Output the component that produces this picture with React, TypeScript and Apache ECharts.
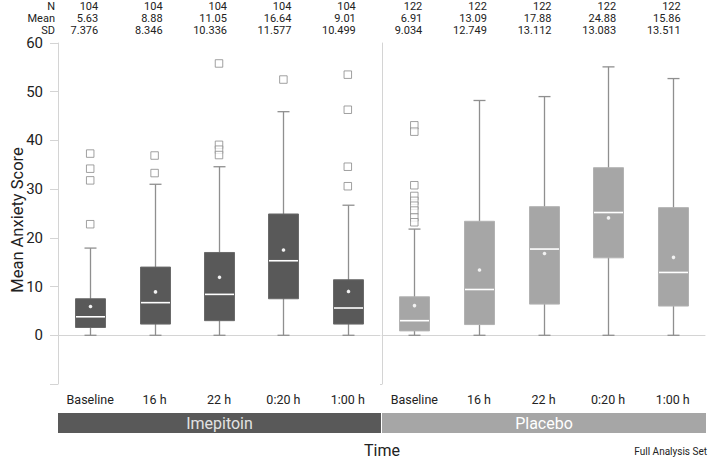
import React, { useEffect, useRef } from "react";
import * as echarts from "echarts";

const categories = ["Baseline", "16 h", "22 h", "0:20 h", "1:00 h"];
const groups = ["Imepitoin", "Placebo"];

// [min, Q1, median, Q3, max]
const imepBoxes = [
  [0, 1.6, 3.8, 7.5, 17.9],
  [0, 2.3, 6.7, 14.0, 31.0],
  [0, 3.0, 8.4, 17.0, 34.6],
  [0, 7.5, 15.3, 24.9, 45.9],
  [0, 2.3, 5.6, 11.4, 26.7],
];
const placBoxes = [
  [0, 0.9, 3.0, 7.9, 21.8],
  [0, 2.2, 9.4, 23.4, 48.2],
  [0, 6.4, 17.7, 26.4, 49.0],
  [0, 15.9, 25.2, 34.4, 55.1],
  [0, 6.0, 12.9, 26.2, 52.7],
];
const imepMeanDots = [5.9, 8.9, 11.9, 17.5, 9.0];
const placMeanDots = [6.1, 13.4, 16.8, 24.1, 16.0];

// outliers per category
const imepOutliers = [
  [37.3, 34.2, 31.8, 22.8],
  [36.9, 33.3],
  [55.8, 39.1, 38.1, 37.0],
  [52.5],
  [53.5, 46.3, 34.6, 30.6],
];
const placOutliers = [
  [43.1, 41.8, 30.8, 28.6, 27.6, 26.6, 25.6, 24.2, 23.2],
  [],
  [],
  [],
  [],
];

const tableRows = ["N", "Mean", "SD"];
const imepN = ["104", "104", "104", "104", "104"];
const imepMean = ["5.63", "8.88", "11.05", "16.64", "9.01"];
const imepSD = ["7.376", "8.346", "10.336", "11.577", "10.499"];
const placN = ["122", "122", "122", "122", "122"];
const placMean = ["6.91", "13.09", "17.88", "24.88", "15.86"];
const placSD = ["9.034", "12.749", "13.112", "13.083", "13.511"];

const yTicks = { min: -10, max: 60, interval: 10 };

const FONT = "'Roboto', sans-serif";
const DARK = "#595959";
const LIGHT = "#a6a6a6";
const WHISKER = "#8f8f8f";
const AXIS = "#d4d4d4";
const TEXT = "#222";

export default function App() {
  const ref = useRef<HTMLDivElement>(null);
  useEffect(() => {
    if (!ref.current) return;
    const chart = echarts.init(ref.current, null, { renderer: "svg" });

    const grids = [
      { left: 58, top: 43, width: 322, height: 341 },
      { left: 382, top: 43, width: 323, height: 341 },
    ];

    const boxSeries = (gi: number, boxes: number[][], means: number[], fill: string, stroke: string) => ({
      type: "custom",
      xAxisIndex: gi,
      yAxisIndex: gi,
      z: 3,
      data: boxes.map((b, i) => [i, ...b, means[i]]),
      renderItem: (params: any, api: any) => {
        const x = api.value(0);
        const pMin = api.coord([x, api.value(1)]);
        const pQ1 = api.coord([x, api.value(2)]);
        const pMed = api.coord([x, api.value(3)]);
        const pQ3 = api.coord([x, api.value(4)]);
        const pMax = api.coord([x, api.value(5)]);
        const pMean = api.coord([x, api.value(6)]);
        const cx = Math.round(pMin[0]) + 0.5;
        const bw = 30;
        const cap = 6;
        const ls = { stroke: WHISKER, lineWidth: 1.3 };
        return {
          type: "group",
          children: [
            { type: "line", shape: { x1: cx, y1: pMax[1], x2: cx, y2: pMin[1] }, style: ls },
            { type: "line", shape: { x1: cx - cap, y1: pMax[1], x2: cx + cap, y2: pMax[1] }, style: ls },
            { type: "line", shape: { x1: cx - cap, y1: pMin[1], x2: cx + cap, y2: pMin[1] }, style: ls },
            {
              type: "rect",
              shape: { x: cx - bw / 2, y: pQ3[1], width: bw, height: pQ1[1] - pQ3[1] },
              style: { fill, stroke, lineWidth: 1 },
            },
            {
              type: "line",
              shape: { x1: cx - bw / 2 + 0.5, y1: pMed[1], x2: cx + bw / 2 - 0.5, y2: pMed[1] },
              style: { stroke: "#ffffff", lineWidth: 1.6 },
            },
            { type: "circle", shape: { cx, cy: pMean[1], r: 1.8 }, style: { fill: "#f2f2f2" } },
          ],
        };
      },
    });

    const outlierSeries = (gi: number, outs: number[][]) => ({
      type: "scatter",
      xAxisIndex: gi,
      yAxisIndex: gi,
      z: 4,
      symbol: "rect",
      symbolSize: 7.5,
      itemStyle: { color: "#ffffff", borderColor: "#8a8a8a", borderWidth: 1 },
      data: outs.flatMap((arr, i) => arr.map((v) => [i, v])),
    });

    const xAxisBase = (gi: number) => ({
      type: "category",
      gridIndex: gi,
      data: categories,
      axisLine: { lineStyle: { color: AXIS, width: 1 } },
      axisTick: { alignWithLabel: true, length: 5, lineStyle: { color: AXIS } },
      axisLabel: { fontSize: 12.5, color: TEXT, fontFamily: FONT, margin: 9 },
    });

    const option: any = {
      animation: false,
      grid: grids,
      xAxis: [xAxisBase(0), xAxisBase(1)],
      yAxis: [
        {
          type: "value",
          gridIndex: 0,
          min: yTicks.min,
          max: yTicks.max,
          interval: yTicks.interval,
          splitLine: { show: false },
          axisLine: { show: true, lineStyle: { color: AXIS } },
          axisTick: { show: true, length: 8, lineStyle: { color: AXIS } },
          axisLabel: {
            fontSize: 15,
            color: TEXT,
            fontFamily: FONT,
            margin: 15,
            formatter: (v: number) => (v < 0 ? "" : String(v)),
          },
        },
        {
          type: "value",
          gridIndex: 1,
          min: yTicks.min,
          max: yTicks.max,
          interval: yTicks.interval,
          splitLine: { show: false },
          axisLine: { show: true, lineStyle: { color: AXIS } },
          axisTick: { show: false },
          axisLabel: { show: false },
        },
      ],
      series: [
        boxSeries(0, imepBoxes, imepMeanDots, DARK, "#6a6a6a"),
        boxSeries(1, placBoxes, placMeanDots, LIGHT, "#b2b2b2"),
        outlierSeries(0, imepOutliers),
        outlierSeries(1, placOutliers),
      ],
    };
    chart.setOption(option);

    const graphics: any[] = [];
    const rowY = [6, 18, 30];
    const txt = (text: string, x: number, y: number, size: number, align: string, fill = TEXT, extra: any = {}) => ({
      type: "text",
      x,
      y,
      ...extra,
      style: {
        text,
        fontSize: size,
        fontFamily: FONT,
        fill,
        textAlign: align,
        align,
        textVerticalAlign: "middle",
        verticalAlign: "middle",
      },
    });
    tableRows.forEach((r, k) => graphics.push(txt(r, 55, rowY[k], 11, "right")));
    const tables = [
      [imepN, imepMean, imepSD],
      [placN, placMean, placSD],
    ];
    tables.forEach((rows, gi) => {
      categories.forEach((c, i) => {
        const px = chart.convertToPixel({ xAxisIndex: gi }, c) as number;
        rows.forEach((vals, k) => graphics.push(txt(vals[i], px + 8, rowY[k], 11, "right")));
      });
    });

    // group band under the axis
    const bandColors = [DARK, LIGHT];
    const bandText = ["#e2e2e2", "#ffffff"];
    grids.forEach((g, gi) => {
      const x0 = g.left;
      const w = g.width + 1;
      graphics.push({
        type: "rect",
        shape: { x: x0, y: 413, width: w, height: 20 },
        style: { fill: bandColors[gi] },
      });
      graphics.push(txt(groups[gi], x0 + w / 2, 423, 16, "center", bandText[gi]));
    });
    // fill the tiny gap in the x axis line between the two panels
    graphics.push({
      type: "line",
      shape: { x1: grids[0].left + grids[0].width, y1: 384.5, x2: grids[1].left, y2: 384.5 },
      style: { stroke: AXIS, lineWidth: 1 },
    });

    graphics.push(txt("Time", 382, 450, 16, "center"));
    graphics.push(txt("Full Analysis Set", 707, 451, 10, "right"));
    graphics.push(txt("Mean Anxiety Score", 17, 220, 16.5, "center", TEXT, { rotation: Math.PI / 2 }));

    chart.setOption({ graphic: graphics });

    return () => chart.dispose();
  }, []);
  return <div ref={ref} style={{ width: 709, height: 462, position: "absolute", left: 0, top: 0 }} />;
}
